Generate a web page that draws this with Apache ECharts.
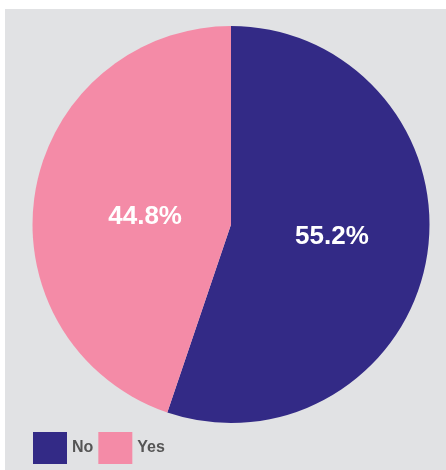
<!DOCTYPE html>
<html>
<head>
<meta charset="utf-8">
<script src="https://cdn.jsdelivr.net/npm/echarts@6/dist/echarts.min.js"></script>
<style>
  html, body { margin: 0; padding: 0; background: #ffffff; }
  #chart {
    position: absolute;
    left: 5px;
    top: 9px;
    width: 441px;
    height: 461px;
    background: #e1e2e4;
  }
</style>
</head>
<body>
<div id="chart"></div>
<script>
// answers and their shares (%)
const categories = ['No', 'Yes']
const values = [55.2, 44.8]
const colors = ['#332a86', '#f48ba7']

const chart = echarts.init(document.getElementById('chart'))

const labelOffsets = [[0, -4], [15, 9]]

const option = {
    backgroundColor: 'transparent',
    animation: false,
    color: colors,
    legend: {
        left: 28,
        top: 423,
        padding: 0,
        orient: 'horizontal',
        itemWidth: 34,
        itemHeight: 32,
        itemGap: 5,
        icon: 'rect',
        data: categories,
        textStyle: {
            color: '#555555',
            fontSize: 16,
            fontWeight: 'bold',
            fontFamily: 'Liberation Sans, Arial, sans-serif',
            padding: [2, 0, 0, 0]
        }
    },
    series: [{
        type: 'pie',
        center: [226, 215.5],
        radius: 198.5,
        startAngle: 90,
        clockwise: true,
        data: categories.map((name, i) => ({
            name: name,
            value: values[i],
            label: { offset: labelOffsets[i] }
        })),
        label: {
            show: true,
            position: 'inside',
            formatter: '{c}%',
            color: '#ffffff',
            fontSize: 26,
            fontWeight: 'bold',
            fontFamily: 'Liberation Sans, Arial, sans-serif'
        },
        labelLine: { show: false },
        emphasis: { disabled: true },
        itemStyle: {
            borderWidth: 0
        }
    }]
}

chart.setOption(option)
</script>
</body>
</html>
